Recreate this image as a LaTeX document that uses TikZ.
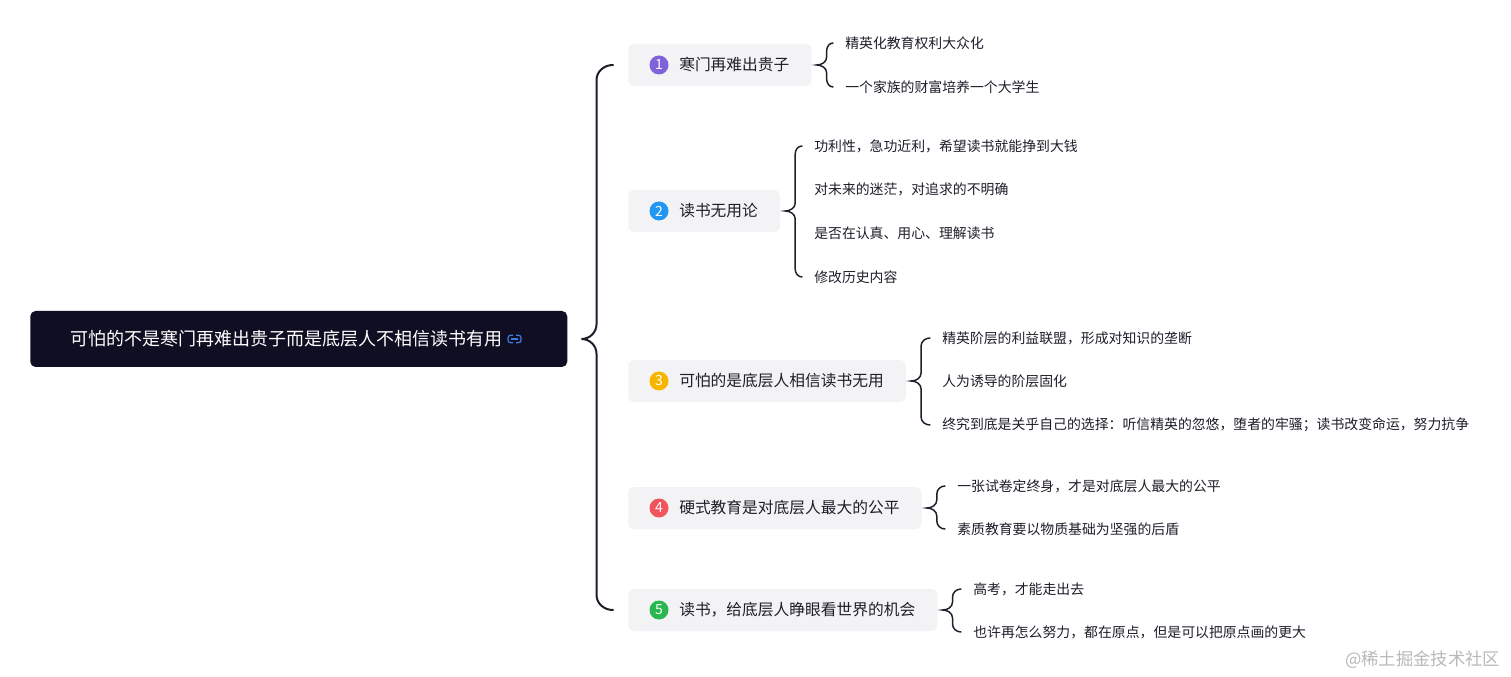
\documentclass[tikz,border=0pt]{standalone}
\usepackage{fontspec}
\setmainfont{Noto Sans CJK SC}
\usetikzlibrary{calc}

\definecolor{raizcolor}{HTML}{0F0E22}
\definecolor{cajagris}{HTML}{F3F3F5}
\definecolor{tinta}{HTML}{1E1E2A}
\definecolor{morado}{HTML}{7E63DA}
\definecolor{azul}{HTML}{2196F3}
\definecolor{naranja}{HTML}{F7B500}
\definecolor{rojo}{HTML}{F2545B}
\definecolor{verde}{HTML}{2BB74F}
\definecolor{enlace}{HTML}{3D7DE0}

% Llave: padre, primer hijo, ultimo hijo, punta, vertical, extremo, radio
\newcommand{\llave}[8][]{%
  \draw[llavestyle, #1] let \p1=(#2.east), \p2=(#3.west), \p3=(#4.west) in
    (\x2-#7,\y2) to[out=180, in=90] (\x1+#5+#6,\y2-#8)
    -- (\x1+#5+#6,\y1+#8) to[out=-90, in=0] (\x1+#5,\y1)
    to[out=0, in=90] (\x1+#5+#6,\y1-#8)
    -- (\x1+#5+#6,\y3+#8) to[out=-90, in=180] (\x2-#7,\y3);
}

\begin{document}
\begin{tikzpicture}[
    x=0.75pt, y=-0.75pt,
    % Estilo del nodo raiz
    raizbox/.style={anchor=west, fill=raizcolor, text=white, rounded corners=4pt,
      minimum height=42pt, inner xsep=30pt, font=\fontsize{13.5}{16}\selectfont},
    % Estilo de las ramas principales
    rama/.style={anchor=west, fill=cajagris, rounded corners=4pt, text=tinta,
      minimum height=31.5pt, inner xsep=16.5pt, font=\fontsize{11.8}{14}\selectfont},
    % Circulos numerados
    num/.style={circle, inner sep=0pt, minimum size=14.25pt, text=white,
      font=\fontsize{10.5}{11}\selectfont},
    % Textos de las hojas
    hoja/.style={anchor=west, inner sep=0pt, text=tinta, font=\fontsize{10.4}{12}\selectfont},
    % Trazo de las llaves
    llavestyle/.style={draw=tinta, line width=1.1pt, line cap=round}
]
    \fill[white] (0,0) rectangle (1511,677);
    \useasboundingbox (0,0) rectangle (1511,677);

    % ==========================================
    % NODO RAIZ
    % ==========================================
    \node[raizbox] (raiz) at (30,339) {可怕的不是寒门再难出贵子而是底层人不相信读书有用\hspace*{18.75pt}};

    % Icono de enlace
    \begin{scope}[shift={([xshift=-39.75pt]raiz.east)}]
        \draw[enlace, line width=0.9pt, rounded corners=2pt] (-1.5,-3.8) -- (-6.5,-3.8) -- (-6.5,3.8) -- (-1.5,3.8);
        \draw[enlace, line width=0.9pt, rounded corners=2pt] (1.5,-3.8) -- (6.5,-3.8) -- (6.5,3.8) -- (1.5,3.8);
        \draw[enlace, line width=0.9pt] (-3.5,0) -- (3.5,0);
    \end{scope}

    % ==========================================
    % RAMAS PRINCIPALES
    % ==========================================
    \node[rama] (r1) at (628,65)  {\hspace*{21.75pt}寒门再难出贵子};
    \node[rama] (r2) at (628,211) {\hspace*{21.75pt}读书无用论};
    \node[rama] (r3) at (628,381) {\hspace*{21.75pt}可怕的是底层人相信读书无用};
    \node[rama] (r4) at (628,508) {\hspace*{21.75pt}硬式教育是对底层人最大的公平};
    \node[rama] (r5) at (628,610) {\hspace*{21.75pt}读书，给底层人睁眼看世界的机会};

    \node[num, fill=morado]  (n1) at ([xshift=23.25pt]r1.west) {1};
    \node[num, fill=azul]    (n2) at ([xshift=23.25pt]r2.west) {2};
    \node[num, fill=naranja] (n3) at ([xshift=23.25pt]r3.west) {3};
    \node[num, fill=rojo]    (n4) at ([xshift=23.25pt]r4.west) {4};
    \node[num, fill=verde]   (n5) at ([xshift=23.25pt]r5.west) {5};

    % Llave principal
    \llave[line width=1.5pt]{raiz}{r1}{r5}{10.5pt}{11.25pt}{11.25pt}{11.25pt}

    % ==========================================
    % HOJAS
    % ==========================================
    % Rama 1
    \node[hoja] (h11) at (845,43) {精英化教育权利大众化};
    \node[hoja] (h12) at (845,87) {一个家族的财富培养一个大学生};
    \llave{r1}{h11}{h12}{3.75pt}{7.5pt}{9pt}{6pt}

    % Rama 2
    \node[hoja] (h21) at (814,146) {功利性，急功近利，希望读书就能挣到大钱};
    \node[hoja] (h22) at (814,189) {对未来的迷茫，对追求的不明确};
    \node[hoja] (h23) at (814,233) {是否在认真、用心、理解读书};
    \node[hoja] (h24) at (814,277) {修改历史内容};
    \llave{r2}{h21}{h24}{3.75pt}{7.5pt}{9pt}{6pt}

    % Rama 3
    \node[hoja] (h31) at (942,338) {精英阶层的利益联盟，形成对知识的垄断};
    \node[hoja] (h32) at (942,381) {人为诱导的阶层固化};
    \node[hoja] (h33) at (942,425) {终究到底是关乎自己的选择：听信精英的忽悠，堕者的牢骚；读书改变命运，努力抗争};
    \llave{r3}{h31}{h33}{3.75pt}{7.5pt}{9pt}{6pt}

    % Rama 4
    \node[hoja] (h41) at (957,486) {一张试卷定终身，才是对底层人最大的公平};
    \node[hoja] (h42) at (957,529) {素质教育要以物质基础为坚强的后盾};
    \llave{r4}{h41}{h42}{3.75pt}{7.5pt}{9pt}{6pt}

    % Rama 5
    \node[hoja] (h51) at (973,589) {高考，才能走出去};
    \node[hoja] (h52) at (973,632) {也许再怎么努力，都在原点，但是可以把原点画的更大};
    \llave{r5}{h51}{h52}{3.75pt}{7.5pt}{9pt}{6pt}

    % Marca de agua
    \node[anchor=east, text=gray!55, font=\fontsize{13}{15}\selectfont] (marca) at (1505,660) {@稀土掘金技术社区};

\end{tikzpicture}
\end{document}
